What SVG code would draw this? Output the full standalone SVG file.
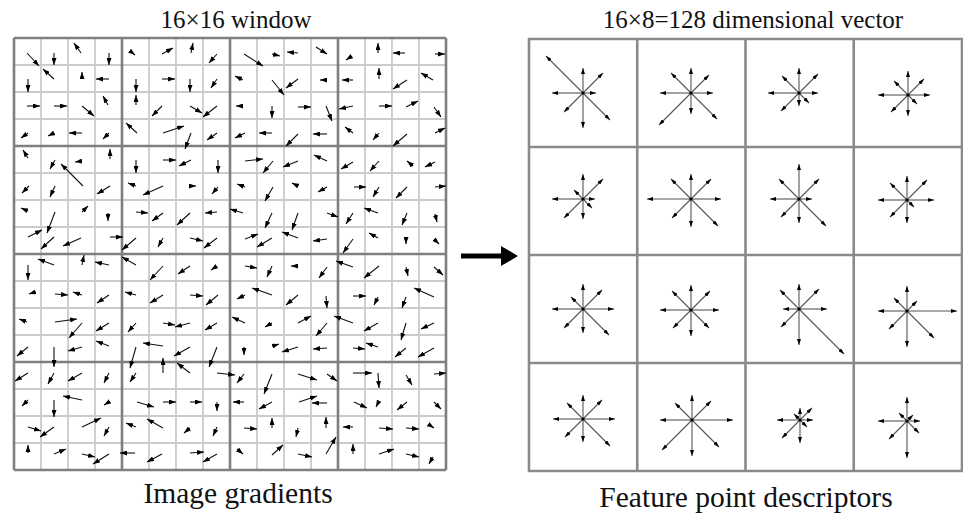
<svg xmlns="http://www.w3.org/2000/svg" width="963" height="513" viewBox="0 0 963 513">
<style>
.t{font-family:"Liberation Serif","Times New Roman",serif;fill:#111;text-anchor:middle}
.thin{stroke:#cbcbcb;stroke-width:1.8;fill:none}
.thick{stroke:#7f7f7f;stroke-width:2.6;fill:none}
.rg{stroke:#8a8a8a;stroke-width:2.6;fill:none}
.ga line{stroke:#111;stroke-width:1.1;marker-end:url(#ah)}
.st line{stroke:#555;stroke-width:1.1;marker-end:url(#sh)}
</style>
<defs>
<marker id="ah" viewBox="0 0 7 5" refX="7" refY="2.5" markerWidth="7" markerHeight="5" markerUnits="userSpaceOnUse" orient="auto"><path d="M0,0 L7,2.5 L0,5 z" fill="#000"/></marker>
<marker id="sh" viewBox="0 0 6 4" refX="6" refY="2" markerWidth="6" markerHeight="4" markerUnits="userSpaceOnUse" orient="auto"><path d="M0,0 L6,2 L0,4 z" fill="#000"/></marker>
</defs>
<rect width="963" height="513" fill="#fff"/>
<text class="t" x="236" y="28" font-size="25">16×16 window</text>
<text class="t" x="753" y="28" font-size="25">16×8=128 dimensional vector</text>
<text class="t" x="238" y="503" font-size="29.5">Image gradients</text>
<text class="t" x="746" y="507" font-size="29.5">Feature point descriptors</text>
<g id="gradient-grid">
<path class="thin" d="M41,38V470M68,38V470M95,38V470M149,38V470M176,38V470M203,38V470M257,38V470M284,38V470M311,38V470M365,38V470M392,38V470M419,38V470M14,65H446M14,92H446M14,119H446M14,173H446M14,200H446M14,227H446M14,281H446M14,308H446M14,335H446M14,389H446M14,416H446M14,443H446"/>
<path class="thick" d="M14,38V470M122,38V470M230,38V470M338,38V470M446,38V470M14,38H446M14,146H446M14,254H446M14,362H446M14,470H446"/>
<g class="ga">
<line x1="27" y1="53" x2="39" y2="66"/><line x1="54" y1="53" x2="54" y2="65"/><line x1="81" y1="53" x2="74" y2="43"/><line x1="109" y1="53" x2="109" y2="65"/><line x1="130" y1="51" x2="135" y2="55"/><line x1="162" y1="54" x2="173" y2="48"/><line x1="191" y1="53" x2="193" y2="43"/><line x1="217" y1="54" x2="209" y2="63"/><line x1="244" y1="54" x2="263" y2="66"/><line x1="272" y1="54" x2="280" y2="56"/><line x1="298" y1="53" x2="287" y2="52"/><line x1="316" y1="47" x2="327" y2="54"/><line x1="352" y1="56" x2="346" y2="60"/><line x1="378" y1="53" x2="378" y2="43"/><line x1="405" y1="53" x2="393" y2="53"/><line x1="435" y1="54" x2="445" y2="54"/>
<line x1="28" y1="79" x2="28" y2="92"/><line x1="54" y1="79" x2="43" y2="69"/><line x1="82" y1="78" x2="82" y2="72"/><line x1="109" y1="79" x2="96" y2="79"/><line x1="136" y1="79" x2="136" y2="92"/><line x1="162" y1="79" x2="175" y2="79"/><line x1="190" y1="79" x2="190" y2="92"/><line x1="217" y1="79" x2="211" y2="88"/><line x1="243" y1="80" x2="235" y2="76"/><line x1="272" y1="80" x2="284" y2="95"/><line x1="298" y1="79" x2="286" y2="88"/><line x1="325" y1="80" x2="320" y2="80"/><line x1="353" y1="80" x2="342" y2="80"/><line x1="379" y1="79" x2="379" y2="68"/><line x1="407" y1="80" x2="393" y2="89"/><line x1="433" y1="80" x2="421" y2="73"/>
<line x1="27" y1="106" x2="40" y2="106"/><line x1="54" y1="106" x2="67" y2="106"/><line x1="82" y1="106" x2="94" y2="116"/><line x1="108" y1="105" x2="103" y2="96"/><line x1="136" y1="105" x2="136" y2="95"/><line x1="162" y1="106" x2="152" y2="116"/><line x1="190" y1="106" x2="202" y2="113"/><line x1="217" y1="106" x2="203" y2="117"/><line x1="243" y1="106" x2="236" y2="106"/><line x1="272" y1="106" x2="272" y2="118"/><line x1="298" y1="107" x2="311" y2="107"/><line x1="326" y1="106" x2="332" y2="121"/><line x1="353" y1="106" x2="339" y2="109"/><line x1="379" y1="106" x2="392" y2="106"/><line x1="406" y1="107" x2="418" y2="101"/><line x1="434" y1="107" x2="441" y2="117"/>
<line x1="28" y1="133" x2="21" y2="138"/><line x1="54" y1="133" x2="48" y2="136"/><line x1="82" y1="133" x2="69" y2="133"/><line x1="109" y1="133" x2="103" y2="139"/><line x1="137" y1="133" x2="126" y2="123"/><line x1="163" y1="133" x2="184" y2="126"/><line x1="191" y1="133" x2="185" y2="149"/><line x1="217" y1="133" x2="207" y2="140"/><line x1="245" y1="133" x2="235" y2="138"/><line x1="272" y1="133" x2="259" y2="133"/><line x1="298" y1="134" x2="286" y2="146"/><line x1="327" y1="134" x2="313" y2="134"/><line x1="353" y1="133" x2="345" y2="127"/><line x1="379" y1="133" x2="373" y2="140"/><line x1="407" y1="134" x2="393" y2="146"/><line x1="435" y1="133" x2="445" y2="128"/>
<line x1="28" y1="158" x2="23" y2="150"/><line x1="55" y1="160" x2="50" y2="169"/><line x1="82" y1="161" x2="75" y2="162"/><line x1="110" y1="159" x2="110" y2="149"/><line x1="136" y1="160" x2="136" y2="173"/><line x1="163" y1="160" x2="176" y2="160"/><line x1="191" y1="160" x2="179" y2="166"/><line x1="218" y1="160" x2="218" y2="173"/><line x1="245" y1="161" x2="263" y2="159"/><line x1="273" y1="161" x2="263" y2="173"/><line x1="298" y1="161" x2="283" y2="167"/><line x1="327" y1="161" x2="314" y2="155"/><line x1="353" y1="162" x2="341" y2="169"/><line x1="379" y1="161" x2="370" y2="171"/><line x1="413" y1="166" x2="407" y2="161"/><line x1="435" y1="162" x2="425" y2="167"/>
<line x1="29" y1="186" x2="22" y2="193"/><line x1="55" y1="186" x2="50" y2="197"/><line x1="83" y1="186" x2="61" y2="164"/><line x1="110" y1="186" x2="97" y2="194"/><line x1="136" y1="186" x2="128" y2="183"/><line x1="163" y1="186" x2="143" y2="195"/><line x1="190" y1="186" x2="196" y2="186"/><line x1="218" y1="187" x2="212" y2="194"/><line x1="245" y1="187" x2="237" y2="184"/><line x1="273" y1="187" x2="265" y2="201"/><line x1="298" y1="186" x2="292" y2="183"/><line x1="327" y1="187" x2="318" y2="192"/><line x1="354" y1="187" x2="366" y2="187"/><line x1="379" y1="187" x2="373" y2="197"/><line x1="407" y1="187" x2="396" y2="198"/><line x1="435" y1="187" x2="446" y2="186"/>
<line x1="28" y1="211" x2="21" y2="208"/><line x1="55" y1="212" x2="47" y2="233"/><line x1="82" y1="212" x2="88" y2="206"/><line x1="108" y1="213" x2="108" y2="221"/><line x1="136" y1="212" x2="148" y2="213"/><line x1="163" y1="213" x2="152" y2="221"/><line x1="190" y1="213" x2="177" y2="225"/><line x1="217" y1="212" x2="205" y2="213"/><line x1="243" y1="213" x2="230" y2="209"/><line x1="272" y1="213" x2="265" y2="228"/><line x1="298" y1="213" x2="292" y2="230"/><line x1="327" y1="213" x2="338" y2="217"/><line x1="353" y1="213" x2="346" y2="224"/><line x1="378" y1="213" x2="364" y2="208"/><line x1="407" y1="213" x2="402" y2="225"/><line x1="435" y1="214" x2="437" y2="222"/>
<line x1="28" y1="237" x2="42" y2="230"/><line x1="54" y1="237" x2="41" y2="249"/><line x1="81" y1="238" x2="63" y2="246"/><line x1="110" y1="237" x2="123" y2="237"/><line x1="136" y1="238" x2="122" y2="250"/><line x1="163" y1="238" x2="158" y2="247"/><line x1="190" y1="238" x2="203" y2="241"/><line x1="217" y1="238" x2="204" y2="248"/><line x1="245" y1="239" x2="258" y2="234"/><line x1="272" y1="238" x2="257" y2="247"/><line x1="298" y1="238" x2="282" y2="232"/><line x1="327" y1="239" x2="313" y2="241"/><line x1="353" y1="239" x2="343" y2="253"/><line x1="378" y1="238" x2="369" y2="233"/><line x1="406" y1="238" x2="406" y2="244"/><line x1="434" y1="239" x2="439" y2="244"/>
<line x1="28" y1="265" x2="28" y2="280"/><line x1="54" y1="265" x2="38" y2="259"/><line x1="82" y1="265" x2="84" y2="255"/><line x1="109" y1="265" x2="95" y2="262"/><line x1="136" y1="265" x2="122" y2="257"/><line x1="163" y1="266" x2="150" y2="280"/><line x1="190" y1="266" x2="178" y2="274"/><line x1="217" y1="266" x2="211" y2="270"/><line x1="245" y1="266" x2="257" y2="268"/><line x1="272" y1="266" x2="267" y2="277"/><line x1="298" y1="266" x2="291" y2="266"/><line x1="327" y1="267" x2="319" y2="278"/><line x1="353" y1="267" x2="336" y2="261"/><line x1="379" y1="266" x2="364" y2="278"/><line x1="406" y1="267" x2="408" y2="276"/><line x1="434" y1="267" x2="443" y2="275"/>
<line x1="35" y1="292" x2="29" y2="294"/><line x1="55" y1="294" x2="68" y2="295"/><line x1="82" y1="295" x2="73" y2="292"/><line x1="109" y1="295" x2="97" y2="303"/><line x1="136" y1="295" x2="125" y2="292"/><line x1="163" y1="295" x2="150" y2="303"/><line x1="190" y1="295" x2="203" y2="296"/><line x1="218" y1="295" x2="206" y2="305"/><line x1="245" y1="295" x2="237" y2="299"/><line x1="272" y1="295" x2="252" y2="288"/><line x1="298" y1="295" x2="286" y2="305"/><line x1="326" y1="296" x2="327" y2="308"/><line x1="353" y1="296" x2="366" y2="296"/><line x1="378" y1="297" x2="374" y2="305"/><line x1="406" y1="297" x2="402" y2="308"/><line x1="434" y1="297" x2="414" y2="288"/>
<line x1="27" y1="322" x2="19" y2="319"/><line x1="55" y1="322" x2="77" y2="319"/><line x1="82" y1="323" x2="69" y2="338"/><line x1="109" y1="323" x2="96" y2="331"/><line x1="136" y1="323" x2="128" y2="332"/><line x1="163" y1="323" x2="175" y2="325"/><line x1="190" y1="323" x2="175" y2="327"/><line x1="217" y1="323" x2="205" y2="330"/><line x1="245" y1="323" x2="232" y2="317"/><line x1="272" y1="323" x2="265" y2="327"/><line x1="298" y1="323" x2="311" y2="316"/><line x1="327" y1="323" x2="316" y2="336"/><line x1="353" y1="323" x2="334" y2="316"/><line x1="378" y1="323" x2="364" y2="331"/><line x1="406" y1="323" x2="401" y2="340"/><line x1="434" y1="323" x2="421" y2="329"/>
<line x1="28" y1="347" x2="17" y2="356"/><line x1="54" y1="347" x2="54" y2="367"/><line x1="82" y1="347" x2="68" y2="351"/><line x1="109" y1="346" x2="96" y2="341"/><line x1="136" y1="347" x2="130" y2="368"/><line x1="163" y1="346" x2="143" y2="343"/><line x1="190" y1="347" x2="174" y2="356"/><line x1="217" y1="347" x2="209" y2="367"/><line x1="244" y1="347" x2="244" y2="355"/><line x1="273" y1="346" x2="279" y2="344"/><line x1="298" y1="347" x2="282" y2="352"/><line x1="327" y1="348" x2="313" y2="349"/><line x1="353" y1="348" x2="365" y2="349"/><line x1="378" y1="347" x2="366" y2="343"/><line x1="406" y1="348" x2="395" y2="357"/><line x1="434" y1="348" x2="418" y2="357"/>
<line x1="28" y1="373" x2="15" y2="381"/><line x1="54" y1="373" x2="48" y2="384"/><line x1="82" y1="373" x2="68" y2="381"/><line x1="109" y1="373" x2="104" y2="383"/><line x1="136" y1="373" x2="130" y2="382"/><line x1="163" y1="373" x2="163" y2="358"/><line x1="190" y1="373" x2="177" y2="363"/><line x1="217" y1="373" x2="235" y2="375"/><line x1="244" y1="374" x2="237" y2="383"/><line x1="272" y1="374" x2="264" y2="394"/><line x1="298" y1="374" x2="317" y2="380"/><line x1="327" y1="374" x2="337" y2="381"/><line x1="353" y1="373" x2="372" y2="373"/><line x1="378" y1="373" x2="379" y2="388"/><line x1="406" y1="375" x2="412" y2="385"/><line x1="434" y1="374" x2="446" y2="373"/>
<line x1="28" y1="400" x2="22" y2="406"/><line x1="54" y1="400" x2="54" y2="417"/><line x1="82" y1="400" x2="63" y2="396"/><line x1="109" y1="402" x2="104" y2="405"/><line x1="137" y1="402" x2="154" y2="407"/><line x1="163" y1="402" x2="176" y2="402"/><line x1="190" y1="402" x2="202" y2="402"/><line x1="217" y1="402" x2="217" y2="411"/><line x1="244" y1="402" x2="233" y2="402"/><line x1="272" y1="402" x2="259" y2="409"/><line x1="299" y1="402" x2="317" y2="396"/><line x1="327" y1="403" x2="312" y2="403"/><line x1="354" y1="402" x2="367" y2="408"/><line x1="378" y1="403" x2="376" y2="407"/><line x1="407" y1="402" x2="397" y2="410"/><line x1="434" y1="402" x2="441" y2="409"/>
<line x1="28" y1="427" x2="41" y2="431"/><line x1="54" y1="427" x2="40" y2="437"/><line x1="82" y1="427" x2="101" y2="418"/><line x1="109" y1="427" x2="104" y2="436"/><line x1="136" y1="427" x2="126" y2="423"/><line x1="163" y1="428" x2="147" y2="419"/><line x1="190" y1="428" x2="184" y2="433"/><line x1="217" y1="427" x2="213" y2="436"/><line x1="244" y1="428" x2="257" y2="429"/><line x1="272" y1="428" x2="272" y2="418"/><line x1="298" y1="428" x2="296" y2="437"/><line x1="326" y1="428" x2="326" y2="417"/><line x1="353" y1="427" x2="343" y2="427"/><line x1="379" y1="428" x2="393" y2="429"/><line x1="406" y1="428" x2="419" y2="429"/><line x1="428" y1="424" x2="434" y2="428"/>
<line x1="28" y1="453" x2="28" y2="445"/><line x1="54" y1="454" x2="66" y2="449"/><line x1="82" y1="454" x2="95" y2="457"/><line x1="109" y1="454" x2="93" y2="464"/><line x1="135" y1="453" x2="120" y2="453"/><line x1="162" y1="454" x2="147" y2="462"/><line x1="190" y1="453" x2="204" y2="452"/><line x1="217" y1="454" x2="203" y2="462"/><line x1="237" y1="449" x2="243" y2="454"/><line x1="272" y1="455" x2="283" y2="445"/><line x1="298" y1="454" x2="312" y2="457"/><line x1="326" y1="454" x2="336" y2="437"/><line x1="353" y1="454" x2="353" y2="444"/><line x1="379" y1="454" x2="394" y2="449"/><line x1="406" y1="454" x2="419" y2="457"/><line x1="433" y1="457" x2="429" y2="464"/>
</g>
</g>
<g id="big-arrow">
<line x1="461" y1="256" x2="504" y2="256" stroke="#000" stroke-width="5"/>
<polygon points="501,246 518,256 501,266" fill="#000"/>
</g>
<g id="descriptor-grid">
<path class="rg" d="M529,39H962V471H529Z M637.25,39V471M745.5,39V471M853.75,39V471M529,147H962M529,255H962M529,363H962"/>
<g class="st" transform="translate(583,93)"><line x2="13"/><line x2="20" y2="-20"/><line y2="-25"/><line x2="-37" y2="-37"/><line x2="-31"/><line x2="-19" y2="19"/><line y2="35"/><line x2="27" y2="27"/><circle r="1.6"/></g>
<g class="st" transform="translate(691,93)"><line x2="22"/><line x2="18" y2="-18"/><line y2="-25"/><line x2="-20" y2="-20"/><line x2="-31"/><line x2="-32" y2="32"/><line y2="21"/><line x2="26" y2="26"/><circle r="1.6"/></g>
<g class="st" transform="translate(799,93)"><line x2="19"/><line x2="19" y2="-19"/><line y2="-25"/><line x2="-17" y2="-17"/><line x2="-31"/><line x2="-18" y2="18"/><line y2="13"/><line x2="10" y2="10"/><circle r="1.6"/></g>
<g class="st" transform="translate(908,95)"><line x2="22"/><line x2="16" y2="-16"/><line y2="-24"/><line x2="-14" y2="-14"/><line x2="-30"/><line x2="-17" y2="17"/><line y2="21"/><line x2="9" y2="9"/><circle r="1.6"/></g>
<g class="st" transform="translate(583,199)"><line x2="12"/><line x2="20" y2="-20"/><line y2="-25"/><line x2="-9" y2="-9"/><line x2="-31"/><line x2="-19" y2="19"/><line y2="20"/><line x2="9" y2="9"/><circle r="1.6"/></g>
<g class="st" transform="translate(691,199)"><line x2="30"/><line x2="20" y2="-20"/><line y2="-25"/><line x2="-20" y2="-20"/><line x2="-44"/><line x2="-19" y2="19"/><line y2="28"/><line x2="27" y2="27"/><circle r="1.6"/></g>
<g class="st" transform="translate(799,199)"><line x2="13"/><line x2="20" y2="-20"/><line y2="-35"/><line x2="-20" y2="-20"/><line x2="-29"/><line x2="-18" y2="18"/><line y2="24"/><line x2="27" y2="27"/><circle r="1.6"/></g>
<g class="st" transform="translate(907,200)"><line x2="27"/><line x2="20" y2="-20"/><line y2="-24"/><line x2="-17" y2="-17"/><line x2="-29"/><line x2="-17" y2="17"/><line y2="23"/><line x2="7" y2="7"/><circle r="1.6"/></g>
<g class="st" transform="translate(583,309)"><line x2="31"/><line x2="19" y2="-19"/><line y2="-25"/><line x2="-12" y2="-12"/><line x2="-31"/><line x2="-19" y2="19"/><line y2="24"/><line x2="26" y2="26"/><circle r="1.6"/></g>
<g class="st" transform="translate(691,310)"><line x2="28"/><line x2="19" y2="-19"/><line y2="-25"/><line x2="-19" y2="-19"/><line x2="-31"/><line x2="-18" y2="18"/><line y2="26"/><line x2="18" y2="18"/><circle r="1.6"/></g>
<g class="st" transform="translate(799,309)"><line x2="28"/><line x2="20" y2="-20"/><line y2="-25"/><line x2="-19" y2="-19"/><line x2="-16"/><line x2="-18" y2="18"/><line y2="36"/><line x2="45" y2="45"/><circle r="1.6"/></g>
<g class="st" transform="translate(907,311)"><line x2="50"/><line x2="10" y2="-10"/><line y2="-25"/><line x2="-13" y2="-13"/><line x2="-29"/><line x2="-18" y2="18"/><line y2="36"/><line x2="27" y2="27"/><circle r="1.6"/></g>
<g class="st" transform="translate(583,419)"><line x2="32"/><line x2="19" y2="-19"/><line y2="-24"/><line x2="-16" y2="-16"/><line x2="-30"/><line x2="-18" y2="18"/><line y2="23"/><line x2="27" y2="27"/><circle r="1.6"/></g>
<g class="st" transform="translate(692,420)"><line x2="41"/><line x2="19" y2="-19"/><line y2="-25"/><line x2="-17" y2="-17"/><line x2="-32"/><line x2="-30" y2="30"/><line y2="36"/><line x2="27" y2="27"/><circle r="1.6"/></g>
<g class="st" transform="translate(800,420)"><line x2="13"/><line x2="12" y2="-12"/><line y2="-12"/><line x2="-6" y2="-6"/><line x2="-23"/><line x2="-18" y2="18"/><line y2="23"/><line x2="7" y2="7"/><circle r="1.6"/></g>
<g class="st" transform="translate(907,421)"><line x2="13"/><line x2="6" y2="-6"/><line y2="-24"/><line x2="-8" y2="-8"/><line x2="-29"/><line x2="-18" y2="18"/><line y2="37"/><line x2="12" y2="12"/><circle r="1.6"/></g>
</g>
</svg>
